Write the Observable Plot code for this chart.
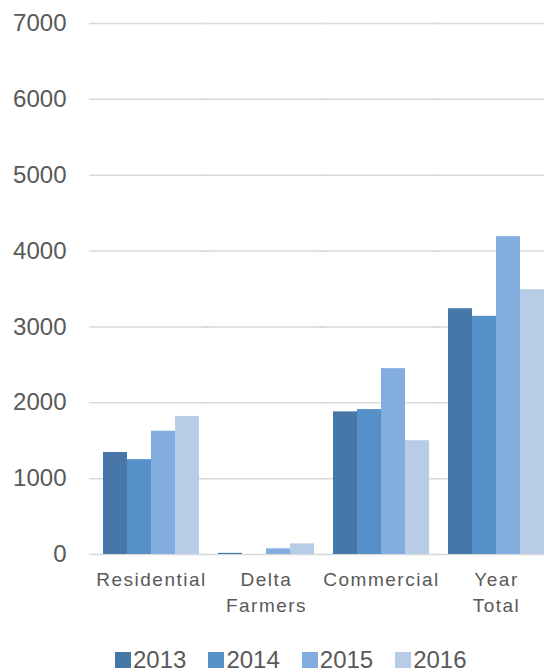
<!DOCTYPE html>
<html>
<head>
<meta charset="utf-8">
<script src="https://cdn.jsdelivr.net/npm/d3@7"></script>
<script src="https://cdn.jsdelivr.net/npm/@observablehq/plot@0.6"></script>
<style>
  html, body { margin: 0; padding: 0; background: #fff; overflow: hidden; }
  #wrap { position: relative; width: 544px; height: 672px; overflow: hidden; }
  #legend { position: absolute; left: 115px; top: 648px; display: flex; gap: 22px;
            font-family: "Liberation Sans", Arial, sans-serif; font-size: 24px; line-height: 24px; color: #595959; }
  #legend .item { white-space: nowrap; }
  #legend .sw { display: inline-block; width: 16px; height: 16px; margin-right: 2px; vertical-align: baseline; }
  g[aria-label="fx-axis tick label"] text { letter-spacing: 1.5px; }
</style>
</head>
<body>
<div id="wrap"></div>
<script>
const categories = ["Residential", "Delta Farmers", "Commercial", "Year Total"];
const years = ["2013", "2014", "2015", "2016"];
const v2013 = [1345, 15, 1880, 3240];
const v2014 = [1250, 0, 1910, 3140];
const v2015 = [1625, 75, 2450, 4190];
const v2016 = [1820, 140, 1500, 3490];
const colors = ["#4677a8", "#5591c8", "#84addf", "#b8cce7"];
const yTicks = [0, 1000, 2000, 3000, 4000, 5000, 6000, 7000];

const series = [v2013, v2014, v2015, v2016];
const data = [];
categories.forEach((c, i) => years.forEach((y, j) => data.push({category: c, year: y, value: series[j][i]})));

const chart = Plot.plot({
  width: 544,
  height: 640,
  marginLeft: 88,
  marginRight: 0,
  marginTop: 23,
  marginBottom: 86,
  style: {fontFamily: "'Liberation Sans', Arial, sans-serif", color: "#595959", background: "#fff"},
  fx: {domain: categories, paddingInner: 0.1677, paddingOuter: 0.0607, align: 1, label: null},
  x: {domain: years, padding: 0, axis: null},
  y: {domain: [0, 7000], axis: null},
  color: {domain: years, range: colors},
  marks: [
    Plot.ruleY(yTicks, {stroke: "#d9d9d9", strokeWidth: 1.5, insetLeft: -14, insetRight: -10}),
    Plot.barY(data, {fx: "category", x: "year", y: "value", fill: "year"}),
    Plot.axisY(yTicks, {anchor: "left", tickSize: 0, tickPadding: 37, fontSize: 24, fill: "#595959", label: null,
                        tickFormat: d => String(d)}),
    Plot.axisFx({anchor: "bottom", tickSize: 0, tickPadding: 13, fontSize: 19, fill: "#595959", lineHeight: 1.38, label: null,
                 tickFormat: d => d.replace(" ", "\n")})
  ]
});
document.getElementById("wrap").appendChild(chart);

const legend = document.createElement("div");
legend.id = "legend";
years.forEach((y, j) => {
  const item = document.createElement("span");
  item.className = "item";
  const sw = document.createElement("span");
  sw.className = "sw";
  sw.style.background = colors[j];
  item.appendChild(sw);
  item.appendChild(document.createTextNode(y));
  legend.appendChild(item);
});
document.getElementById("wrap").appendChild(legend);
</script>
</body>
</html>
